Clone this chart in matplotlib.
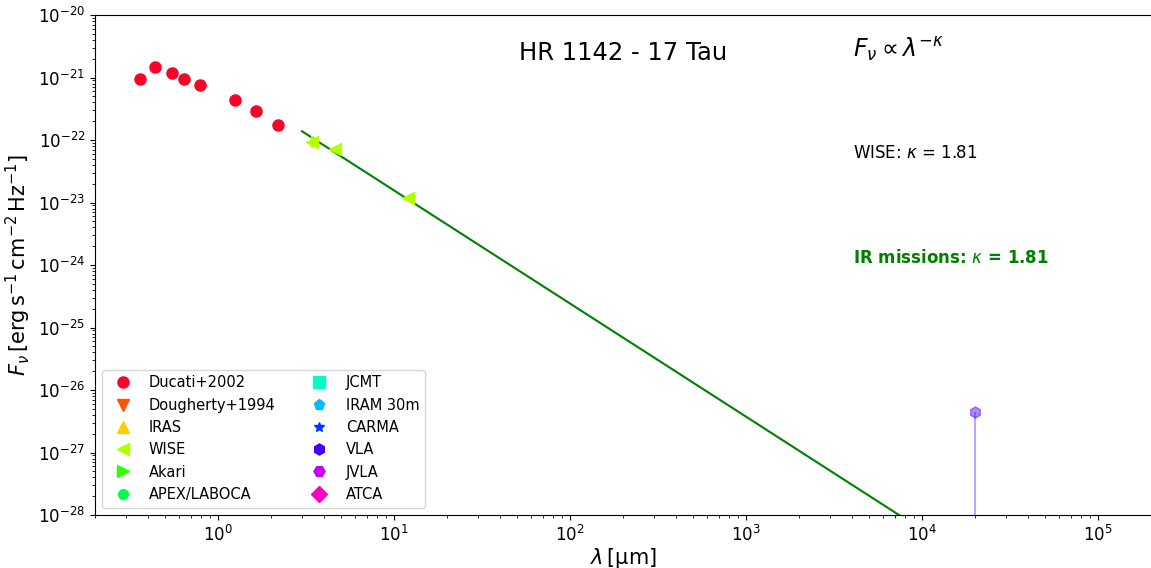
import numpy as np
import matplotlib
matplotlib.use('Agg')
import matplotlib.pyplot as plt

# photometry
ducati_lam = [0.36, 0.44, 0.55, 0.64, 0.79, 1.25, 1.65, 2.2]
ducati_flux = [9.5e-22, 1.47e-21, 1.18e-21, 9.5e-22, 7.6e-22, 4.4e-22, 2.9e-22, 1.74e-22]

wise_lam = [3.4, 4.6, 12.0]
wise_flux = [9.3e-23, 7.05e-23, 1.19e-23]
wise_err_lo = [1.8e-23, 0.0, 0.0]
wise_err_hi = [2.2e-23, 0.0, 0.0]

vla_lam = [2.0e4]
vla_flux = [4.5e-27]

kappa = 1.81
fit_f0 = 1.38e-22   # flux of fitted power law at fit_l0
fit_l0 = 3.0

surveys = ['Ducati+2002', 'Dougherty+1994', 'IRAS', 'WISE', 'Akari', 'APEX/LABOCA',
           'JCMT', 'IRAM 30m', 'CARMA', 'VLA', 'JVLA', 'ATCA']
markers = ['o', 'v', '^', '<', '>', 'o', 's', 'p', '*', 'h', 'H', 'D']
colors = plt.cm.gist_rainbow(np.linspace(0, 1, len(surveys)))

fig = plt.figure(figsize=(11.51, 5.68), dpi=100)
ax = fig.add_axes([95 / 1151, 53 / 568, 1056 / 1151, 500 / 568])

data = {
    'Ducati+2002': (ducati_lam, ducati_flux),
    'WISE': (wise_lam, wise_flux),
}

for name, m, c in zip(surveys, markers, colors):
    ms = 8
    if name in ('APEX/LABOCA', 'CARMA'):
        ms = 7
    lam, flux = data.get(name, ([], []))
    ax.plot(lam, flux, ls='none', marker=m, color=c, ms=ms, label=name, zorder=3)

# error bar on W1
ax.errorbar(wise_lam, wise_flux, yerr=[wise_err_lo, wise_err_hi], fmt='none',
            ecolor=colors[3], elinewidth=1.5, capsize=0, zorder=3)

# VLA upper limit (faded)
ax.plot(vla_lam, vla_flux, ls='none', marker='h', color=colors[9], ms=8, alpha=0.45, zorder=3)
ax.vlines(vla_lam, 1e-30, vla_flux, color=colors[9], alpha=0.35, lw=1.5)

# power-law fit
lam_fit = np.logspace(np.log10(fit_l0), 5, 200)
ax.plot(lam_fit, fit_f0 * (lam_fit / fit_l0) ** (-kappa), color='green', lw=1.5, zorder=2)

ax.set_xscale('log')
ax.set_yscale('log')
ax.set_xlim(0.2, 2e5)
ax.set_ylim(1e-28, 1e-20)
ax.spines['right'].set_visible(False)
ax.tick_params(labelsize=12)

ax.set_xlabel(r'$\lambda\,[\mathrm{\mu m}]$', fontsize=15, labelpad=1)
ax.set_ylabel(r'$F_\nu\,[\mathrm{erg\,s^{-1}\,cm^{-2}\,Hz^{-1}}]$', fontsize=15)

ax.text(0.5, 0.91, 'HR 1142 - 17 Tau', transform=ax.transAxes, ha='center', va='baseline',
        fontsize=17.5)
ax.text(0.718, 0.915, r'$F_\nu \propto \lambda^{-\kappa}$', transform=ax.transAxes,
        ha='left', va='baseline', fontsize=17)
ax.text(0.718, 0.724, r'WISE: $\kappa$ = 1.81', transform=ax.transAxes,
        ha='left', va='center', fontsize=12)
ax.text(0.718, 0.514, r'IR missions: $\kappa$ = 1.81', transform=ax.transAxes,
        ha='left', va='center', fontsize=12, color='green', fontweight='bold')

ax.legend(loc='lower left', ncol=2, fontsize=10.5)

fig.savefig('out.png', dpi=100)
